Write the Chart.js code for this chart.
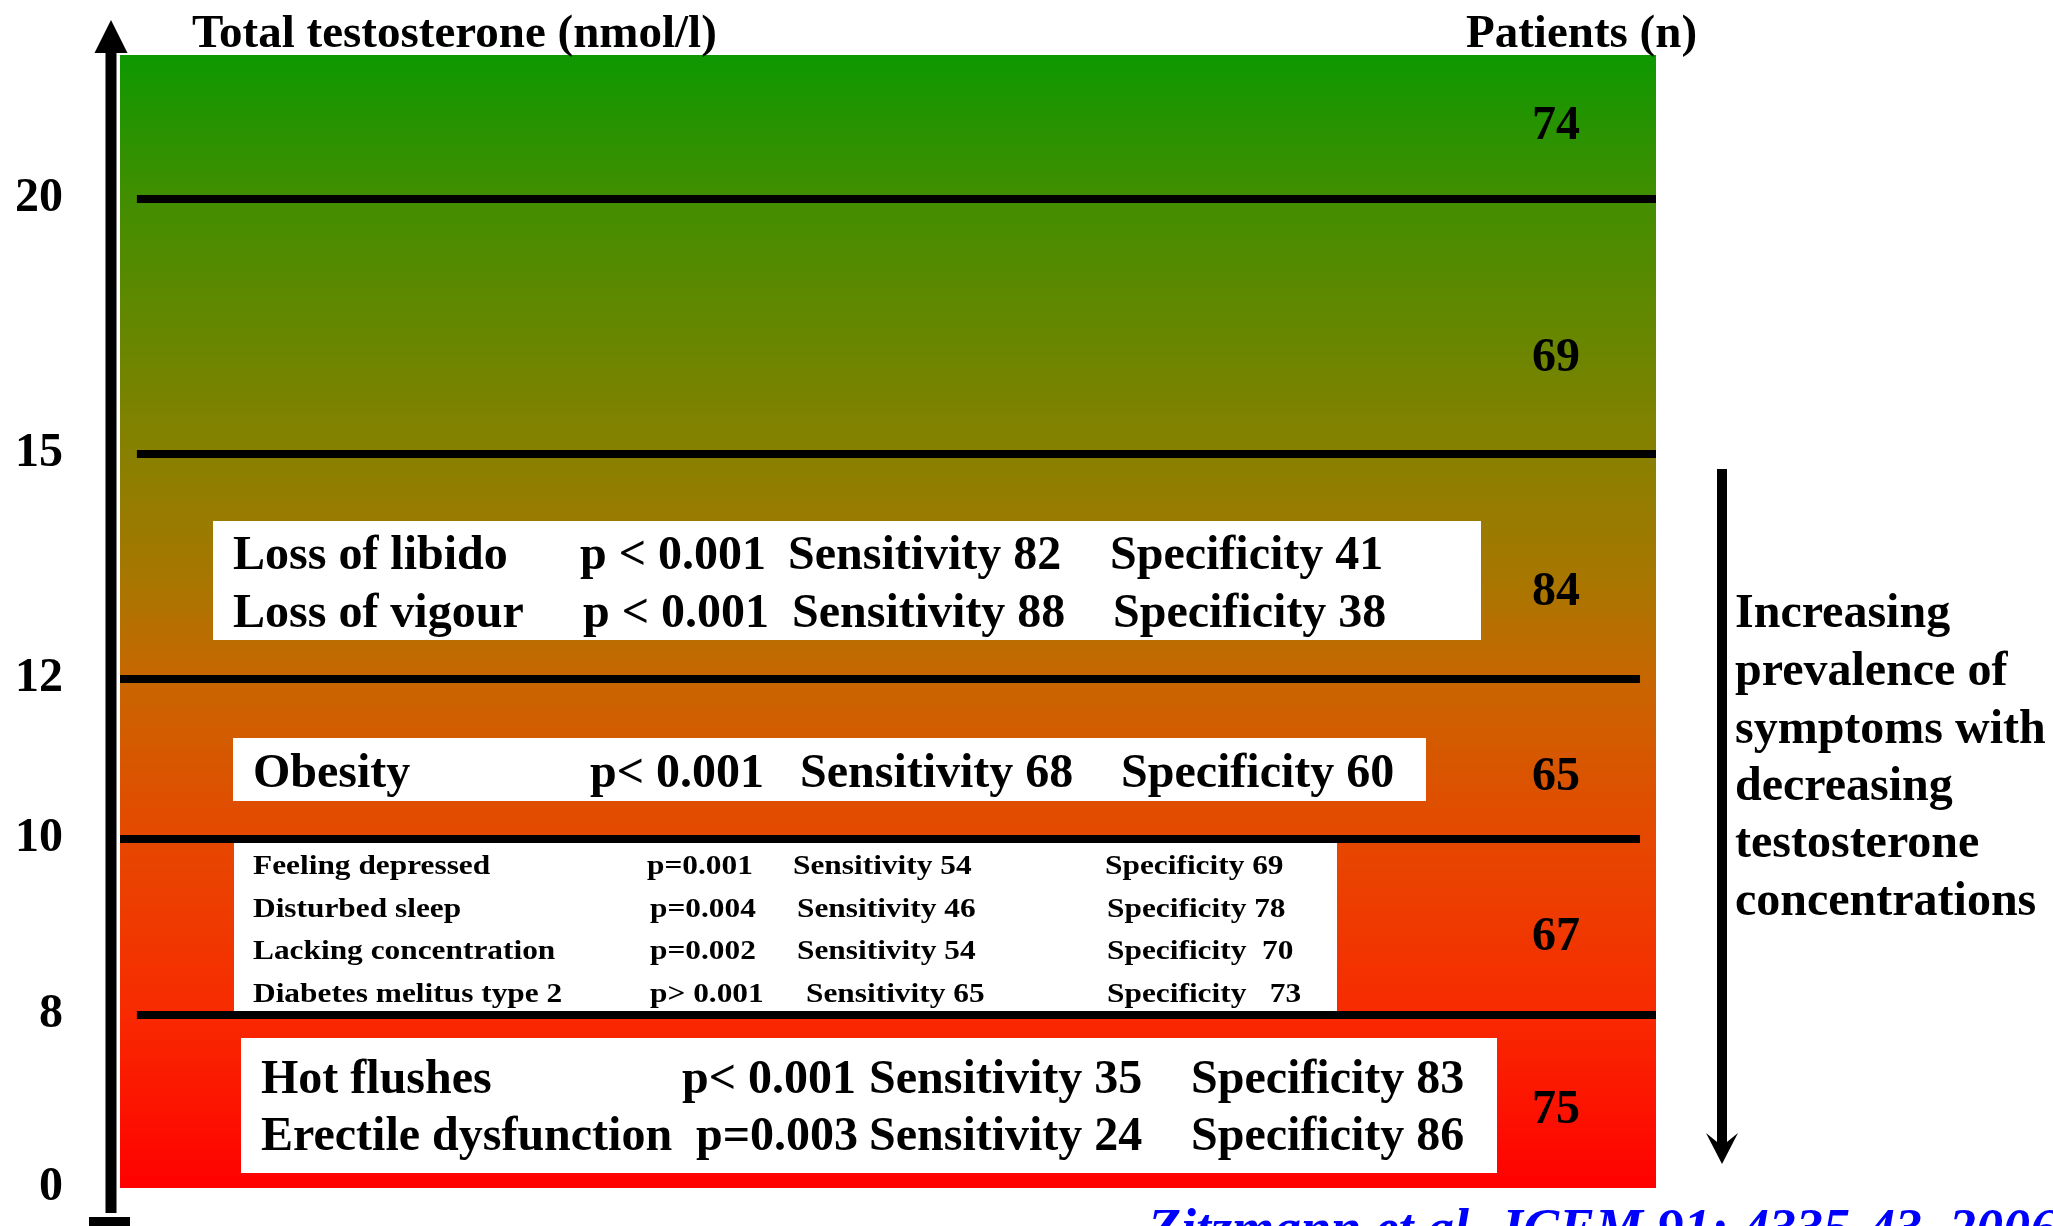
<!DOCTYPE html>
<html>
<head>
<meta charset="utf-8">
<title>Testosterone thresholds and symptoms</title>
<script src="https://cdn.jsdelivr.net/npm/chart.js@4.4.1/dist/chart.umd.min.js"></script>
<style>
  html, body { margin: 0; padding: 0; background: #ffffff; overflow: hidden; }
  #wrap { width: 2053px; height: 1226px; }
</style>
</head>
<body>
<div id="wrap"><canvas id="chart" width="2053" height="1226"></canvas></div>
<script>
// ---- data -------------------------------------------------------------
// Total testosterone bands (nmol/l), listed bottom to top
const bandEdges = [0, 8, 10, 12, 15, 20, 25];
const tickValues = [0, 8, 10, 12, 15, 20];
const boundaryValues = [8, 10, 12, 15, 20];
const patients = [75, 67, 65, 84, 69, 74];

// Symptoms and the band (index into bandEdges) below whose upper limit they rise
const symptoms = ['Hot flushes', 'Erectile dysfunction', 'Feeling depressed', 'Disturbed sleep',
  'Lacking concentration', 'Diabetes melitus type 2', 'Obesity', 'Loss of libido', 'Loss of vigour'];
const symptomBand = [0, 0, 1, 1, 1, 1, 2, 3, 3];
const pValues = ['p< 0.001', 'p=0.003', 'p=0.001', 'p=0.004', 'p=0.002', 'p> 0.001', 'p< 0.001', 'p < 0.001', 'p < 0.001'];
const sensitivity = [35, 24, 54, 46, 54, 65, 68, 82, 88];
const specificity = [83, 86, 69, 78, 70, 73, 60, 41, 38];

const axisTitle = 'Total testosterone (nmol/l)';
const countTitle = 'Patients (n)';
const sideNote = ['Increasing', 'prevalence of', 'symptoms with', 'decreasing', 'testosterone', 'concentrations'];
const citation = 'Zitzmann et al. JCEM 91: 4335-43, 2006';

// ---- layout -----------------------------------------------------------
const FONT = '"Liberation Serif", "Times New Roman", Times, serif';
// share of the axis height reached at each band edge (the axis is not linear)
const edgeShare = [0, 0.15269, 0.30803, 0.44925, 0.64784, 0.87290, 1];
// horizontal reach of each boundary rule, in percent of the plot width
const ruleReach = { 8: [1.1, 100], 10: [0, 98.96], 12: [0, 98.96], 15: [1.1, 100], 20: [1.1, 100] };
// vertical nudge (px) of the patient counts inside each band
const countNudge = [9, 11, 19, 26, 32, 0];
const countX = 1556;

const boxLayout = [
  { band: 3, rect: [213, 521, 1481, 640], size: 48, sx: 1, rows: [
    { y: 569, x: [233, 580, 788, 1110], gap: ' ' },
    { y: 627, x: [233, 583, 792, 1113], gap: ' ' }] },
  { band: 2, rect: [233, 738, 1426, 801], size: 48, sx: 1, rows: [
    { y: 787, x: [253, 590, 800, 1121], gap: ' ' }] },
  { band: 1, rect: [234, 843, 1337, 1011], size: 28, sx: 1.12, rows: [
    { y: 874, x: [253, 647, 793, 1105], gap: ' ' },
    { y: 917, x: [253, 650, 797, 1107], gap: ' ' },
    { y: 959, x: [253, 650, 797, 1107], gap: '  ' },
    { y: 1002, x: [253, 650, 806, 1107], gap: '   ' }] },
  { band: 0, rect: [241, 1038, 1497, 1173], size: 48, sx: 1, rows: [
    { y: 1093, x: [261, 682, 869, 1191], gap: ' ' },
    { y: 1150, x: [261, 696, 869, 1191], gap: ' ' }] }
];

// ---- piecewise value axis ---------------------------------------------
class BandScale extends Chart.LinearScale {
  decimalOf(value) {
    const n = bandEdges.length;
    if (value <= bandEdges[0]) return edgeShare[0];
    for (let i = 1; i < n; i++) {
      if (value <= bandEdges[i]) {
        const t = (value - bandEdges[i - 1]) / (bandEdges[i] - bandEdges[i - 1]);
        return edgeShare[i - 1] + t * (edgeShare[i] - edgeShare[i - 1]);
      }
    }
    return edgeShare[n - 1];
  }
  getPixelForValue(value) {
    if (value === null || value === undefined || isNaN(value)) return NaN;
    return this.getPixelForDecimal(this.decimalOf(value));
  }
  getValueForPixel(pixel) {
    const d = this.getDecimalForPixel(pixel);
    for (let i = 1; i < edgeShare.length; i++) {
      if (d <= edgeShare[i]) {
        const t = (d - edgeShare[i - 1]) / (edgeShare[i] - edgeShare[i - 1]);
        return bandEdges[i - 1] + t * (bandEdges[i] - bandEdges[i - 1]);
      }
    }
    return bandEdges[bandEdges.length - 1];
  }
}
BandScale.id = 'band';
Chart.register(BandScale);

// green (high testosterone) to red (low testosterone)
function bandGradient(chart) {
  const a = chart.chartArea;
  if (!a) return null;
  const g = chart.ctx.createLinearGradient(0, a.top, 0, a.bottom);
  g.addColorStop(0.00, 'rgb(14,152,0)');
  g.addColorStop(0.127, 'rgb(66,142,0)');
  g.addColorStop(0.352, 'rgb(136,128,0)');
  g.addColorStop(0.47, 'rgb(170,118,0)');
  g.addColorStop(0.551, 'rgb(200,102,0)');
  g.addColorStop(0.692, 'rgb(230,72,0)');
  g.addColorStop(0.845, 'rgb(248,42,0)');
  g.addColorStop(1.00, 'rgb(255,0,0)');
  return g;
}

const bandSets = patients.map((n, i) => ({
  type: 'bar',
  label: 'n = ' + n,
  data: [[bandEdges[i], bandEdges[i + 1]]],
  backgroundColor: (c) => bandGradient(c.chart),
  borderWidth: 0,
  grouped: false,
  barPercentage: 1,
  categoryPercentage: 1,
  order: 2
}));

const ruleSets = boundaryValues.map((v) => ({
  type: 'line',
  label: v + ' nmol/l',
  xAxisID: 'x2',
  data: [{ x: ruleReach[v][0], y: v }, { x: ruleReach[v][1], y: v }],
  borderColor: '#000000',
  borderWidth: 8,
  borderCapStyle: 'butt',
  pointRadius: 0,
  fill: false,
  tension: 0,
  clip: false,
  order: 1
}));

function drawText(ctx, text, x, y, sx) {
  ctx.save();
  ctx.translate(x, y);
  ctx.scale(sx || 1, 1);
  ctx.fillText(text, 0, 0);
  ctx.restore();
}

const overlay = {
  id: 'overlay',
  afterDatasetsDraw(chart) {
    const { ctx, chartArea: a, scales: { y } } = chart;
    ctx.save();

    // symptom boxes
    boxLayout.forEach((b) => {
      ctx.fillStyle = '#ffffff';
      ctx.fillRect(b.rect[0], b.rect[1], b.rect[2] - b.rect[0], b.rect[3] - b.rect[1]);
      const idx = symptoms.map((s, i) => i).filter((i) => symptomBand[i] === b.band);
      ctx.fillStyle = '#000000';
      ctx.font = 'bold ' + b.size + 'px ' + FONT;
      ctx.textAlign = 'left';
      ctx.textBaseline = 'alphabetic';
      idx.forEach((k, r) => {
        const row = b.rows[r];
        drawText(ctx, symptoms[k], row.x[0], row.y, b.sx);
        drawText(ctx, pValues[k], row.x[1], row.y, b.sx);
        drawText(ctx, 'Sensitivity ' + sensitivity[k], row.x[2], row.y, b.sx);
        drawText(ctx, 'Specificity' + row.gap + specificity[k], row.x[3], row.y, b.sx);
      });
    });

    // patient counts per band
    ctx.fillStyle = '#000000';
    ctx.font = 'bold 48px ' + FONT;
    ctx.textAlign = 'center';
    ctx.textBaseline = 'middle';
    patients.forEach((n, i) => {
      const cy = (y.getPixelForValue(bandEdges[i]) + y.getPixelForValue(bandEdges[i + 1])) / 2 + countNudge[i];
      ctx.fillText(String(n), countX, cy);
    });

    // headings
    ctx.textAlign = 'left';
    ctx.textBaseline = 'alphabetic';
    ctx.font = 'bold 47px ' + FONT;
    ctx.fillText(axisTitle, 192, 47);
    ctx.fillText(countTitle, 1466, 47);

    // value axis arrow
    const ax = a.left - 9;
    ctx.fillStyle = '#000000';
    ctx.fillRect(ax - 5.5, 50, 11, 1213 - 50);
    ctx.beginPath();
    ctx.moveTo(ax, 20);
    ctx.lineTo(ax + 16.5, 53);
    ctx.lineTo(ax - 16.5, 53);
    ctx.closePath();
    ctx.fill();
    ctx.fillRect(ax - 22, 1217, 41, 12);

    // trend arrow and note on the right
    const tx = 1722;
    ctx.fillRect(tx - 5, 469, 10, 1148 - 469);
    ctx.beginPath();
    ctx.moveTo(tx, 1164);
    ctx.lineTo(tx - 16, 1133);
    ctx.lineTo(tx, 1146);
    ctx.lineTo(tx + 16, 1133);
    ctx.closePath();
    ctx.fill();

    ctx.font = 'bold 48px ' + FONT;
    const noteBase = [627, 685, 743, 800, 857, 915];
    sideNote.forEach((t, i) => ctx.fillText(t, 1735, noteBase[i]));

    // reference
    ctx.fillStyle = '#0000ff';
    ctx.font = 'italic bold 54px ' + FONT;
    ctx.fillText(citation, 1148, 1246);

    ctx.restore();
  }
};

new Chart(document.getElementById('chart'), {
  data: {
    labels: [''],
    datasets: [...ruleSets, ...bandSets]
  },
  options: {
    responsive: false,
    animation: false,
    events: [],
    layout: { padding: { top: 55, right: 397, bottom: 38, left: 0 } },
    plugins: { legend: { display: false }, tooltip: { enabled: false }, title: { display: false } },
    scales: {
      x: { type: 'category', display: false, offset: true, grid: { display: false } },
      x2: { type: 'linear', display: false, min: 0, max: 100 },
      y: {
        type: 'band',
        position: 'left',
        min: 0,
        max: 25,
        afterBuildTicks: (scale) => { scale.ticks = tickValues.map((v) => ({ value: v })); },
        afterFit: (scale) => {
          scale.width = 120;
          scale.paddingTop = 0;
          scale.paddingBottom = 0;
        },
        grid: { display: false, drawTicks: false },
        border: { display: false },
        ticks: {
          autoSkip: false,
          padding: 57,
          color: '#000000',
          font: { family: FONT, size: 48, weight: 'bold' },
          callback: (v) => String(v)
        }
      }
    }
  },
  plugins: [overlay]
});
</script>
</body>
</html>
